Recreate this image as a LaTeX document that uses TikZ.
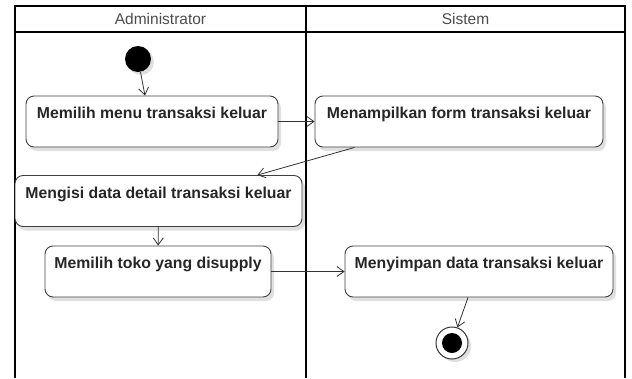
\documentclass[tikz,border=0pt]{standalone}
\usepackage{fontspec}
\setmainfont{Liberation Sans}
\usetikzlibrary{arrows.meta,shadows}
\begin{document}
\begin{tikzpicture}[x=1pt,y=-1pt,
  act/.style={draw=black!75, line width=0.9pt, rounded corners=8pt, fill=white,
    font=\bfseries\fontsize{15.8}{18}\selectfont, text=black!85,
    inner xsep=0pt, inner ysep=0pt, text height=22.5pt, text depth=28.5pt,
    drop shadow={shadow xshift=3pt, shadow yshift=-4pt, opacity=0.12, fill=black}},
  flow/.style={-{Straight Barb[length=7pt,width=10pt]}, draw=black!80, line width=0.8pt},
  lane/.style={line width=1.3pt, draw=black},
  head/.style={font=\fontsize{15.5}{18}\selectfont, text=black!70, inner sep=0pt}]
\useasboundingbox (0,0) rectangle (632,378);
% swimlanes
\draw[lane] (15,378) -- (15,6) -- (625,6) -- (625,378);
\draw[lane] (15,32) -- (625,32);
\draw[lane] (306,6) -- (306,378);
\node[head] (hA) at (160.5,19) {Administrator};
\node[head] (hS) at (465.5,19) {Sistem};
% nodes
\node[circle, fill=black, minimum size=26pt, inner sep=0pt,
  drop shadow={shadow xshift=3pt, shadow yshift=-3pt, opacity=0.12, fill=black}] (start) at (138,59) {};
\node[act, minimum width=252pt] (b1) at (152,121.5) {Memilih menu transaksi keluar};
\node[act, minimum width=288pt] (b2) at (459,121.5) {Menampilkan form transaksi keluar};
\node[act, minimum width=287pt] (b3) at (158.5,201) {Mengisi data detail transaksi keluar};
\node[act, minimum width=226pt] (b4) at (158,271.5) {Memilih toko yang disupply};
\node[act, minimum width=268pt] (b5) at (479,271.5) {Menyimpan data transaksi keluar};
\node[circle, draw=black!80, line width=1pt, fill=white, minimum size=32pt, inner sep=0pt,
  drop shadow={shadow xshift=3pt, shadow yshift=-3pt, opacity=0.12, fill=black}] (end) at (452,343) {};
\node[circle, fill=black, minimum size=20pt, inner sep=0pt] (endin) at (end) {};
% flows
\draw[flow] (start) -- ([xshift=-7pt]b1.north);
\draw[flow] (b1.east) -- (b2.west);
\draw[flow] ([xshift=40pt]b2.south west) -- ([xshift=-45pt]b3.north east);
\draw[flow] (b3) -- (b4);
\draw[flow] (b4.east) -- (b5.west);
\draw[flow] ([xshift=-11pt]b5.south) -- (end);
\end{tikzpicture}
\end{document}
